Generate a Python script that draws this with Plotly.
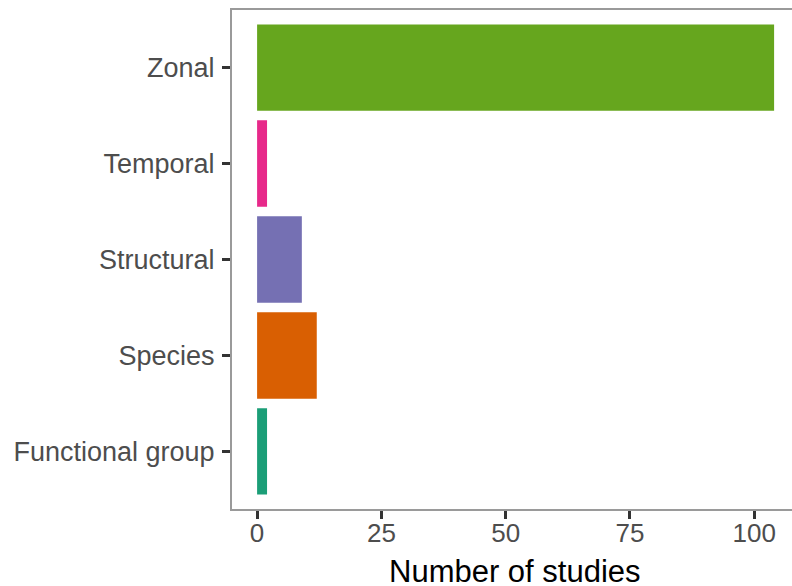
import plotly.graph_objects as go

categories = ["Functional group", "Species", "Structural", "Temporal", "Zonal"]
studies = [2, 12, 9, 2, 104]
bar_colors = ["#1B9E77", "#D95F02", "#7570B3", "#E7298A", "#66A61E"]
x_ticks = [0, 25, 50, 75, 100]

fig = go.Figure()
fig.add_trace(go.Bar(
    y=categories, x=studies, orientation="h",
    marker=dict(color=bar_colors, line=dict(width=0)),
    width=0.9, showlegend=False,
))

fig.update_layout(
    width=792, height=586,
    margin=dict(l=232, r=0, t=10, b=77),
    paper_bgcolor="white", plot_bgcolor="white",
    font=dict(family="Liberation Sans, Arial, sans-serif"),
    bargap=0.1,
)
fig.update_xaxes(
    range=[-5.05, 107.6], tickvals=x_ticks, ticktext=[str(v) for v in x_ticks],
    showgrid=False, zeroline=False,
    showline=True, linecolor="#9a9a9a", linewidth=2, mirror=True,
    ticks="outside", ticklen=8, tickwidth=2.5, tickcolor="#333333",
    tickfont=dict(size=26, color="#4d4d4d"),
    ticklabelstandoff=-8,
)
fig.update_yaxes(
    categoryorder="array", categoryarray=categories,
    range=[-0.6, 4.6],
    showgrid=False, zeroline=False,
    showline=True, linecolor="#9a9a9a", linewidth=2,
    ticks="outside", ticklen=8, tickwidth=2.5, tickcolor="#333333",
    tickfont=dict(size=27, color="#4d4d4d"),
    ticklabelstandoff=2,
)
fig.add_annotation(
    text="Number of studies", xref="paper", yref="paper",
    x=0.505, y=-0.086, xanchor="center", yanchor="top",
    showarrow=False, font=dict(size=31, color="#000000"),
)

fig.write_html(
    "out.html",
    config={"displayModeBar": False},
    post_script="document.body.style.margin='0';document.body.style.overflow='hidden';",
)
